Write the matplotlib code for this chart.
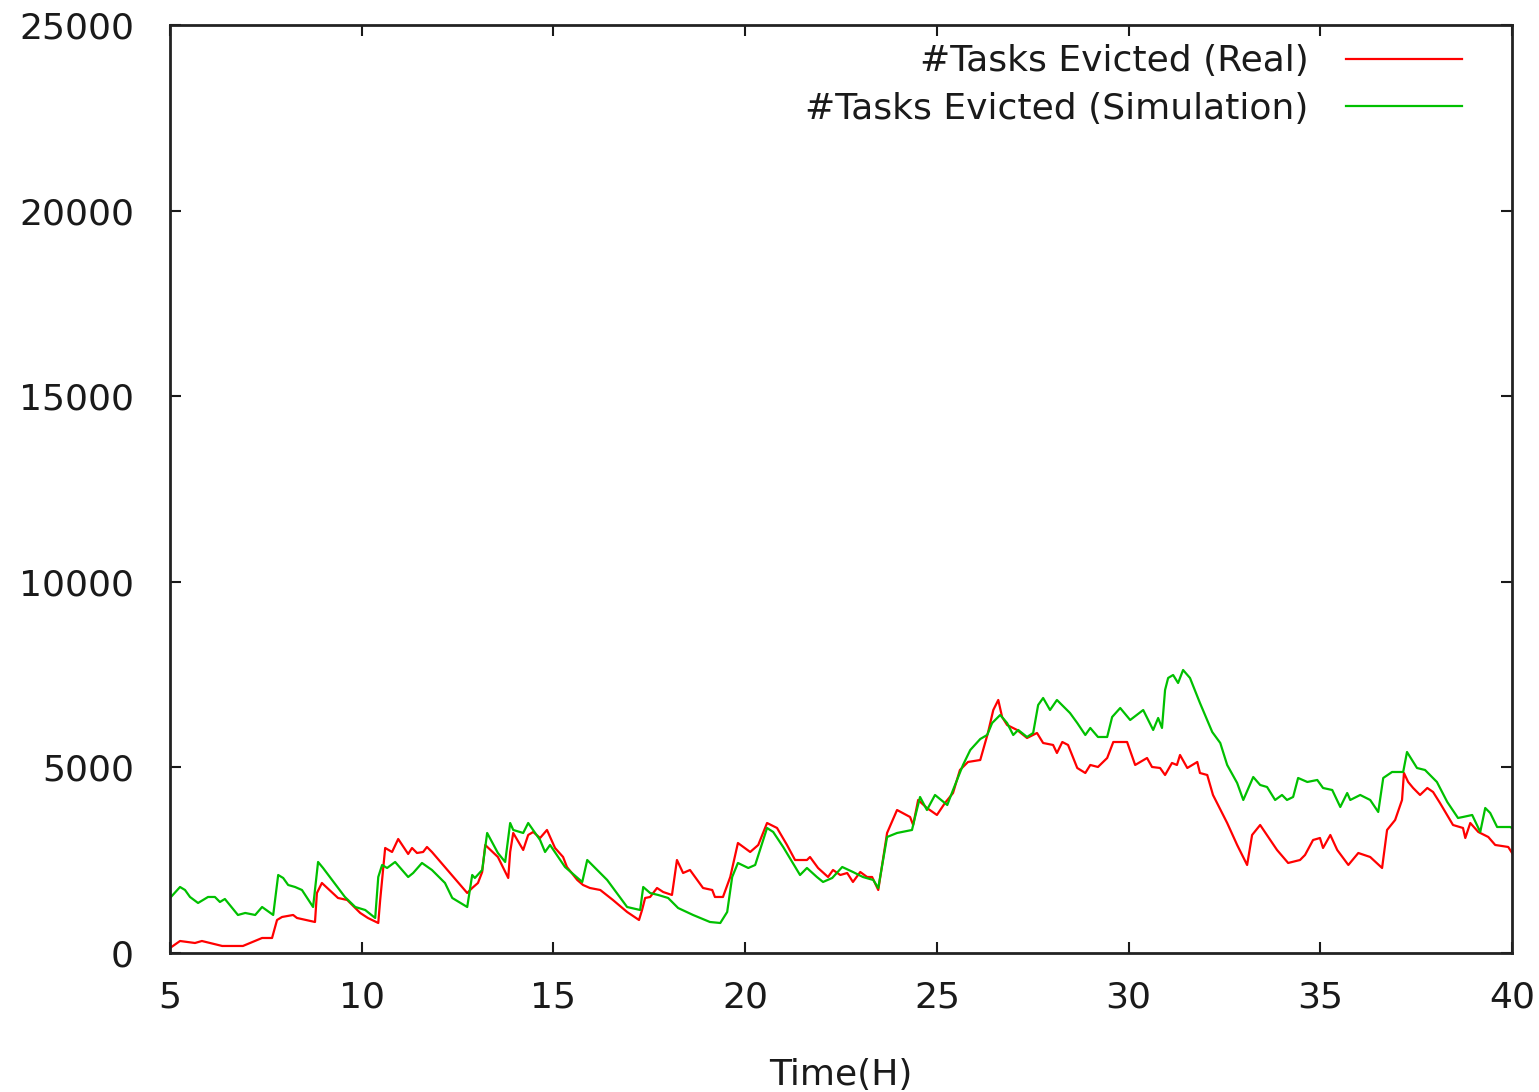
import matplotlib
matplotlib.use("Agg")
import matplotlib.pyplot as plt

# Evicted-task counts over time (hours)
real_hours = [5.00, 5.26, 5.65, 5.83, 6.36, 6.90, 7.40, 7.66, 7.79, 7.92, 8.21, 8.31, 8.78, 8.83,
              8.96, 9.38, 9.62, 9.96, 10.16, 10.43, 10.48, 10.61, 10.79, 10.95, 11.21, 11.31,
              11.44, 11.60, 11.70, 11.83, 12.75, 12.88, 13.03, 13.14, 13.22, 13.55, 13.82, 13.87,
              13.95, 14.21, 14.34, 14.47, 14.65, 14.83, 15.04, 15.25, 15.35, 15.62, 15.77, 15.95,
              16.22, 16.55, 16.92, 17.23, 17.31, 17.39, 17.52, 17.70, 17.86, 18.09, 18.22, 18.38,
              18.56, 18.90, 19.14, 19.21, 19.42, 19.61, 19.81, 20.13, 20.34, 20.57, 20.83, 21.09,
              21.30, 21.61, 21.69, 21.90, 22.16, 22.29, 22.48, 22.66, 22.81, 23.00, 23.18, 23.31,
              23.47, 23.70, 23.96, 24.30, 24.38, 24.51, 24.74, 25.00, 25.21, 25.42, 25.60, 25.81,
              26.13, 26.33, 26.47, 26.60, 26.70, 26.83, 27.09, 27.35, 27.61, 27.77, 28.03, 28.13,
              28.27, 28.42, 28.66, 28.87, 29.00, 29.20, 29.44, 29.60, 29.96, 30.17, 30.48, 30.61,
              30.82, 30.95, 31.13, 31.26, 31.34, 31.53, 31.79, 31.86, 32.05, 32.20, 32.57, 32.83,
              33.09, 33.22, 33.43, 33.87, 34.16, 34.47, 34.60, 34.81, 34.99, 35.07, 35.26, 35.44,
              35.73, 35.99, 36.30, 36.61, 36.74, 36.95, 37.13, 37.18, 37.29, 37.42, 37.60, 37.79,
              37.94, 38.12, 38.46, 38.72, 38.78, 38.91, 39.12, 39.38, 39.56, 39.90, 40.00]
real_evicted = [135, 323, 269, 323, 189, 189, 404, 404, 889, 970, 1024, 943, 835, 1616,
                1886, 1482, 1428, 1078, 943, 808, 1428, 2829, 2721, 3071, 2667, 2829,
                2694, 2721, 2856, 2721, 1616, 1751, 1886, 2182, 2910, 2586, 2021, 2721,
                3233, 2775, 3179, 3260, 3098, 3314, 2829, 2586, 2317, 1967, 1832, 1751,
                1697, 1428, 1105, 889, 1158, 1482, 1509, 1751, 1643, 1563, 2505, 2155,
                2236, 1751, 1697, 1509, 1509, 2047, 2963, 2721, 2910, 3502, 3368, 2910,
                2505, 2505, 2586, 2290, 2047, 2236, 2101, 2155, 1913, 2182, 2047, 2047,
                1697, 3233, 3852, 3664, 3448, 4122, 3906, 3718, 4041, 4310, 4930, 5146,
                5199, 5927, 6546, 6816, 6358, 6142, 6008, 5792, 5927, 5657, 5604, 5388,
                5684, 5604, 4984, 4849, 5065, 5011, 5253, 5684, 5684, 5065, 5253, 5011,
                4984, 4795, 5119, 5065, 5334, 4984, 5146, 4849, 4795, 4257, 3502, 2910,
                2371, 3179, 3448, 2775, 2425, 2505, 2640, 3044, 3098, 2829, 3179, 2775,
                2371, 2694, 2586, 2290, 3314, 3583, 4122, 4849, 4607, 4445, 4257, 4445,
                4337, 4041, 3448, 3368, 3098, 3502, 3260, 3125, 2910, 2856, 2694]

sim_hours = [5.00, 5.26, 5.39, 5.52, 5.73, 5.99, 6.17, 6.30, 6.43, 6.77, 6.96, 7.22, 7.40, 7.69,
             7.82, 7.95, 8.08, 8.26, 8.44, 8.73, 8.86, 8.99, 9.56, 9.83, 10.09, 10.35, 10.43,
             10.53, 10.66, 10.87, 11.21, 11.34, 11.57, 11.83, 12.17, 12.36, 12.75, 12.88, 12.95,
             13.14, 13.27, 13.55, 13.74, 13.87, 13.95, 14.21, 14.34, 14.65, 14.78, 14.91, 15.30,
             15.75, 15.88, 16.40, 16.92, 17.26, 17.34, 17.52, 17.73, 17.99, 18.25, 18.64, 19.08,
             19.35, 19.53, 19.66, 19.81, 20.08, 20.26, 20.57, 20.73, 20.99, 21.43, 21.61, 21.87,
             22.03, 22.27, 22.53, 22.81, 23.07, 23.34, 23.47, 23.70, 23.96, 24.35, 24.43, 24.56,
             24.74, 24.95, 25.27, 25.42, 25.68, 25.87, 26.13, 26.31, 26.44, 26.65, 26.83, 26.99,
             27.12, 27.35, 27.51, 27.64, 27.77, 27.95, 28.13, 28.47, 28.66, 28.87, 29.00, 29.20,
             29.44, 29.57, 29.78, 30.04, 30.38, 30.51, 30.64, 30.77, 30.87, 30.95, 31.03, 31.16,
             31.29, 31.42, 31.60, 31.86, 32.18, 32.39, 32.57, 32.83, 32.99, 33.25, 33.43, 33.61,
             33.82, 34.00, 34.13, 34.29, 34.42, 34.66, 34.92, 35.07, 35.31, 35.52, 35.70, 35.78,
             36.04, 36.30, 36.51, 36.64, 36.87, 37.16, 37.26, 37.52, 37.73, 38.04, 38.31, 38.59,
             38.72, 38.96, 39.17, 39.30, 39.43, 39.61, 39.95, 40.00]
sim_evicted = [1482, 1778, 1697, 1509, 1347, 1509, 1509, 1374, 1455, 1024, 1078, 1024, 1239, 1024,
               2101, 2021, 1832, 1778, 1697, 1239, 2452, 2290, 1509, 1239, 1158, 943, 2047,
               2371, 2290, 2452, 2047, 2155, 2425, 2236, 1886, 1482, 1239, 2101, 2021,
               2236, 3233, 2694, 2452, 3502, 3314, 3233, 3502, 3044, 2721, 2910, 2317,
               1913, 2505, 1967, 1239, 1158, 1778, 1616, 1563, 1482, 1212, 1024, 835,
               808, 1105, 2047, 2425, 2290, 2371, 3368, 3260, 2856, 2101, 2290, 2047,
               1913, 2021, 2317, 2182, 2047, 1967, 1751, 3125, 3233, 3314, 3664, 4203,
               3852, 4257, 3987, 4391, 5065, 5469, 5765, 5873, 6196, 6412, 6196, 5873,
               6008, 5819, 5927, 6681, 6870, 6546, 6816, 6466, 6196, 5873, 6062, 5819,
               5819, 6358, 6600, 6277, 6546, 6277, 6008, 6331, 6062, 7085, 7409, 7489,
               7274, 7624, 7409, 6735, 5954, 5657, 5065, 4580, 4122, 4741, 4526, 4472,
               4122, 4257, 4122, 4203, 4715, 4607, 4661, 4445, 4391, 3933, 4310, 4122,
               4257, 4122, 3799, 4715, 4876, 4876, 5415, 4984, 4930, 4607, 4068, 3637,
               3664, 3718, 3260, 3906, 3772, 3394, 3394, 3368]

x_ticks = [5, 10, 15, 20, 25, 30, 35, 40]
y_ticks = [0, 5000, 10000, 15000, 20000, 25000]

plt.rcParams['font.family'] = ['DejaVu Sans']
TEXT = '#1a1a1a'

fig = plt.figure(figsize=(15.39, 10.92), dpi=100)
ax = fig.add_axes([0.1105, 0.1273, 0.8720, 0.8498])

ax.plot(real_hours, real_evicted, color='#ff0000', lw=1.6, label='#Tasks Evicted (Real)')
ax.plot(sim_hours, sim_evicted, color='#00c000', lw=1.6, label='#Tasks Evicted (Simulation)')

ax.set_xlim(5, 40)
ax.set_ylim(0, 25000)
ax.set_xticks(x_ticks)
ax.set_yticks(y_ticks)
ax.tick_params(direction='in', length=8, width=1.5, labelsize=26, colors=TEXT,
               top=True, right=True)
ax.tick_params(axis='y', pad=26)
ax.tick_params(axis='x', pad=20)
for s in ax.spines.values():
    s.set_linewidth(2)
    s.set_color('#222222')

ax.set_xlabel('Time(H)', fontsize=26, labelpad=31, color=TEXT)

leg = ax.legend(loc='upper right', bbox_to_anchor=(0.968, 0.987), markerfirst=False,
                frameon=False, fontsize=26, handlelength=3.2, handletextpad=1.05,
                labelspacing=0.37, borderaxespad=0.0, borderpad=0.2)
for t in leg.get_texts():
    t.set_ha('right')
    t.set_color(TEXT)

fig.savefig('out.png', dpi=100)
